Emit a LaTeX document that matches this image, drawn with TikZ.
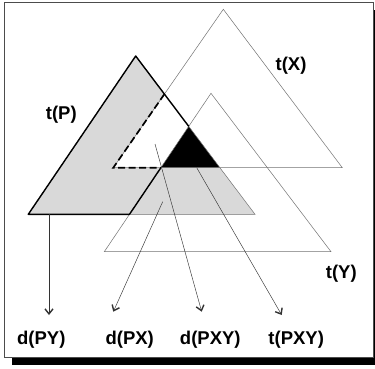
\documentclass[tikz,border=0pt]{standalone}
\usepackage{fontspec}
\setmainfont{Liberation Sans}
\usetikzlibrary{arrows.meta}
\definecolor{treegray}{HTML}{D9D9D9}

\begin{document}
\begin{tikzpicture}[x=1pt, y=-1pt, every node/.style={font=\fontsize{18.5}{20}\selectfont\bfseries}]
    \tikzset{thinside/.style={draw=black!55,line width=0.5pt},
      thickside/.style={line width=1.4pt,line join=round},
      dashside/.style={line width=1.7pt,dash pattern=on 7pt off 3.5pt},
      pointer/.style={black!80,line width=0.45pt,-{Straight Barb[length=5pt,width=8pt,line width=1.4pt]}}}
    \useasboundingbox (0,0) rectangle (375,369);
    \clip (0,0) rectangle (375,369);
    % frame with shadow
    \fill (12,10.5) rectangle (381.5,365);
    \draw[fill=white,line width=0.7pt,draw=black!70] (4,2.7) rectangle (373.3,357.5);
    % the three triangles
    \coordinate (pa) at (135.7,56);  \coordinate (pl) at (28.3,214.3); \coordinate (pr) at (255,214.3);
    \coordinate (xa) at (223.3,9.3); \coordinate (xl) at (113.3,167.7); \coordinate (xr) at (342.3,167.7);
    \coordinate (ya) at (211,93.3);  \coordinate (yl) at (104.3,251.7); \coordinate (yr) at (331,251.7);
    \fill[treegray] (pa) -- (pl) -- (pr) -- cycle;
    \begin{scope}
      \clip (xa) -- (xl) -- (xr) -- cycle;
      \fill[white] (pa) -- (pl) -- (pr) -- cycle;
      \clip (ya) -- (yl) -- (yr) -- cycle;
      \fill[black] (pa) -- (pl) -- (pr) -- cycle;
    \end{scope}
    \draw[thinside] (xa) -- (xl) -- (xr) -- cycle;
    \draw[thinside] (ya) -- (yl) -- (yr) -- cycle;
    \draw[thinside] (pa) -- (pl) -- (pr) -- cycle;
    % outline of the part of t(P)
    \coordinate (top) at (intersection of pa--pr and ya--yl);
    \coordinate (cut) at (intersection of pa--pr and xa--xl);
    \coordinate (low) at (intersection of xl--xr and ya--yl);
    \coordinate (foot) at (intersection of pl--pr and ya--yl);
    \draw[thickside] (low) -- (foot) -- (pl) -- (pa) -- (top);
    \draw[dashside] (cut) -- (xl) -- (low);
    % labels
    \node (tx) at (291,65.5) {t(X)};
    \node (tp) at (61.3,115) {t(P)};
    \node (ty) at (341.3,273.3) {t(Y)};
    \node (dpy) at (41.3,339.5) {d(PY)};
    \node (dpx) at (129.7,339.5) {d(PX)};
    \node (dpxy) at (210.3,339.5) {d(PXY)};
    \node (tpxy) at (296.2,339.5) {t(PXY)};
    % arrows
    \coordinate (spy) at (49,214.3);    \coordinate (epy) at (49,315);
    \coordinate (spx) at (162.7,201.7); \coordinate (epx) at (113.3,311.7);
    \coordinate (spxy) at (155,144);    \coordinate (epxy) at (201.7,311.7);
    \coordinate (stp) at (196.7,167.7); \coordinate (etp) at (281.7,315);
    \draw[pointer] (spy) -- (epy);
    \draw[pointer] (spx) -- (epx);
    \draw[pointer] (spxy) -- (epxy);
    \draw[pointer] (stp) -- (etp);
  \end{tikzpicture}
\end{document}
